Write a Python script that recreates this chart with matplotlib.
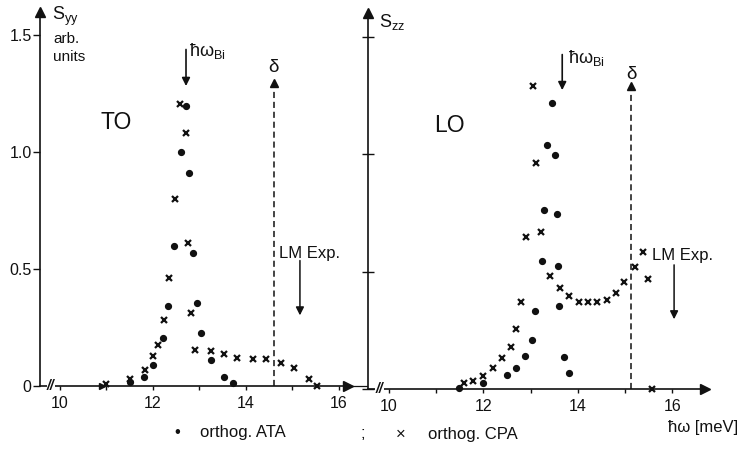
import matplotlib
matplotlib.use("Agg")
import matplotlib.pyplot as plt

plt.rcParams["font.family"] = ["Liberation Sans", "DejaVu Sans"]
plt.rcParams["mathtext.fontset"] = "custom"
plt.rcParams["mathtext.rm"] = "Liberation Sans"
plt.rcParams["mathtext.it"] = "Liberation Sans:italic"

# TO panel (S_yy)
ata_to_x = [11.5, 11.8, 12.0, 12.22, 12.33, 12.45, 12.6, 12.71, 12.77, 12.86, 12.95, 13.04, 13.25, 13.53, 13.73]
ata_to_y = [0.017, 0.04, 0.09, 0.205, 0.34, 0.60, 1.0, 1.195, 0.91, 0.57, 0.355, 0.225, 0.11, 0.04, 0.013]
cpa_to_x = [11.0, 11.5, 11.83, 12.0, 12.1, 12.24, 12.34, 12.47, 12.57, 12.71, 12.75, 12.82, 12.9,
            13.25, 13.53, 13.81, 14.15, 14.43, 14.75, 15.03, 15.35, 15.53]
cpa_to_y = [0.01, 0.03, 0.07, 0.13, 0.175, 0.28, 0.46, 0.80, 1.205, 1.08, 0.61, 0.31, 0.155,
            0.15, 0.135, 0.12, 0.115, 0.115, 0.10, 0.077, 0.03, 0.0]

# LO panel (S_zz)
ata_lo_x = [11.48, 11.99, 12.5, 12.69, 12.88, 13.03, 13.09, 13.24, 13.28, 13.35, 13.45, 13.52,
            13.56, 13.58, 13.6, 13.71, 13.81]
ata_lo_y = [0.005, 0.025, 0.06, 0.09, 0.14, 0.21, 0.33, 0.545, 0.76, 1.04, 1.215, 0.995,
            0.745, 0.525, 0.355, 0.137, 0.068]
cpa_lo_x = [11.59, 11.78, 11.99, 12.2, 12.39, 12.58, 12.69, 12.8, 12.9, 13.05, 13.11, 13.22,
            13.41, 13.62, 13.81, 14.02, 14.21, 14.4, 14.61, 14.8, 14.98, 15.21, 15.38, 15.49, 15.57]
cpa_lo_y = [0.025, 0.035, 0.055, 0.09, 0.13, 0.18, 0.255, 0.37, 0.645, 1.29, 0.96, 0.67,
            0.48, 0.43, 0.395, 0.37, 0.37, 0.37, 0.38, 0.41, 0.455, 0.52, 0.585, 0.47, 0.0]

x_ticks = [10, 12, 14, 16]
x_minor = [11, 13, 15]
y_ticks = [0, 0.5, 1.0, 1.5]
y_ticklabels = ["0", "0.5", "1.0", "1.5"]

W, H = 752, 453
INK = "#111111"
fig = plt.figure(figsize=(W / 100, H / 100), dpi=100)


def px_axes(x0, xscale, xlim, y0, yscale, ylim):
    """Axes placed so that data maps onto the scan's pixel grid."""
    width = (xlim[1] - xlim[0]) * xscale
    bottom = y0 - ylim[0] * yscale
    height = (ylim[1] - ylim[0]) * yscale
    ax = fig.add_axes([x0 / W, (H - bottom) / H, width / W, height / H])
    ax.set_xlim(*xlim)
    ax.set_ylim(*ylim)
    ax.patch.set_alpha(0)
    return ax


def frame(ax, x0, xend, ytop, tick_dir, labels):
    for s in ("top", "right"):
        ax.spines[s].set_visible(False)
    ax.spines["bottom"].set_position(("data", 0))
    ax.spines["bottom"].set_bounds(x0, xend)
    ax.spines["left"].set_bounds(0, ytop)
    for s in ("bottom", "left"):
        ax.spines[s].set_linewidth(1.2)
        ax.spines[s].set_color(INK)
    ax.plot([xend], [0], marker=">", ms=6.5, color=INK, clip_on=False)
    ax.plot([x0], [ytop], marker="^", ms=6.5, color=INK, clip_on=False)
    ax.set_xticks(x_ticks)
    ax.set_xticks(x_minor, minor=True)
    ax.set_xticklabels([str(t) for t in x_ticks], fontsize=11.5)
    ax.tick_params(axis="x", which="both", direction="out", length=3, width=1.0,
                   color=INK, pad=4, labelcolor=INK)
    ax.set_yticks(y_ticks)
    if labels:
        ax.set_yticklabels(y_ticklabels, fontsize=11.5)
    else:
        ax.set_yticklabels([])
    ax.tick_params(axis="y", direction=tick_dir, length=5 if tick_dir == "out" else 8,
                   width=1.0, color=INK, pad=1, labelcolor=INK)
    # axis break
    ax.text(9.8, 0, "//", fontsize=10, color=INK, ha="center", va="center",
            style="italic", fontweight="bold", bbox=dict(fc="white", ec="none", pad=0.2))


def draw(ax, ax_x, ax_y, cx, cy):
    ax.plot(ax_x, ax_y, ls="none", marker="o", ms=4.2, color=INK, clip_on=False)
    ax.plot(cx, cy, ls="none", marker="x", ms=5, mew=1.6, color=INK, clip_on=False)


def bi_arrow(ax, x, ytop, ybot, lx, ly):
    ax.annotate("", xy=(x, ybot), xytext=(x, ytop),
                arrowprops=dict(arrowstyle="-|>", color=INK, lw=1.2, mutation_scale=12))
    ax.text(lx, ly, "ħω$_{\\mathrm{Bi}}$", fontsize=13, color=INK, ha="left", va="center")


def delta(ax, x, ytop, ly):
    ax.plot([x, x], [0, ytop - 0.03], ls=(0, (4, 2.5)), lw=1.1, color=INK)
    ax.plot([x], [ytop], marker="^", ms=6, color=INK)
    ax.text(x, ly, "δ", fontsize=13.5, color=INK, ha="center", va="center")


def lm_exp(ax, tx, ty, ax_x, ytop, ybot):
    ax.text(tx, ty, "LM Exp.", fontsize=12, color=INK, ha="left", va="center")
    ax.annotate("", xy=(ax_x, ybot), xytext=(ax_x, ytop),
                arrowprops=dict(arrowstyle="-|>", color=INK, lw=1.1, mutation_scale=12))


# ---- left panel: TO ----
axL = px_axes(40, 46.5, (9.57, 16.6), 386, 234, (-0.1, 1.62))
frame(axL, 9.57, 16.2, 1.6, "out", True)
axL.plot([16.2, 16.6], [0, 0], lw=0.9, color=INK, clip_on=False)
axL.plot([10.9], [0], marker=">", ms=5, color=INK)
draw(axL, ata_to_x, ata_to_y, cpa_to_x, cpa_to_y)
bi_arrow(axL, 12.71, 1.45, 1.27, 12.78, 1.43)
delta(axL, 14.6, 1.295, 1.36)
lm_exp(axL, 14.7, 0.568, 15.16, 0.548, 0.29)
axL.text(11.2, 1.125, "TO", fontsize=16.5, color=INK, ha="center", va="center")
axL.text(9.83, 1.58, "S$_{\\mathrm{yy}}$", fontsize=13, color=INK, ha="left", va="center")
axL.text(9.85, 1.485, "arb.", fontsize=11, color=INK, ha="left", va="center")
axL.text(9.85, 1.405, "units", fontsize=11, color=INK, ha="left", va="center")

# ---- right panel: LO ----
axR = px_axes(368, 47.2, (9.555, 17.5), 389, 235, (-0.1, 1.62))
frame(axR, 9.555, 16.7, 1.6, "inout", False)
draw(axR, ata_lo_x, ata_lo_y, cpa_lo_x, cpa_lo_y)
bi_arrow(axR, 13.67, 1.435, 1.26, 13.8, 1.41)
delta(axR, 15.13, 1.29, 1.34)
lm_exp(axR, 15.57, 0.57, 16.04, 0.54, 0.285)
axR.text(11.29, 1.123, "LO", fontsize=16.5, color=INK, ha="center", va="center")
axR.text(9.78, 1.56, "S$_{\\mathrm{zz}}$", fontsize=13, color=INK, ha="left", va="center")
axR.text(16.65, -0.162, "ħω [meV]", fontsize=12, color=INK, ha="center", va="center")

# ---- legend line ----
def ft(x, y, s, **kw):
    fig.text(x / W, 1 - y / H, s, color=INK, va="center", **kw)

ft(177, 433, "•", fontsize=12, ha="center")
ft(200, 433, "orthog. ATA", fontsize=12, ha="left")
ft(363, 433, ";", fontsize=12, ha="center")
ft(401, 434, "×", fontsize=12, ha="center")
ft(428, 434, "orthog. CPA", fontsize=12, ha="left")

fig.savefig("out.png", dpi=100)
